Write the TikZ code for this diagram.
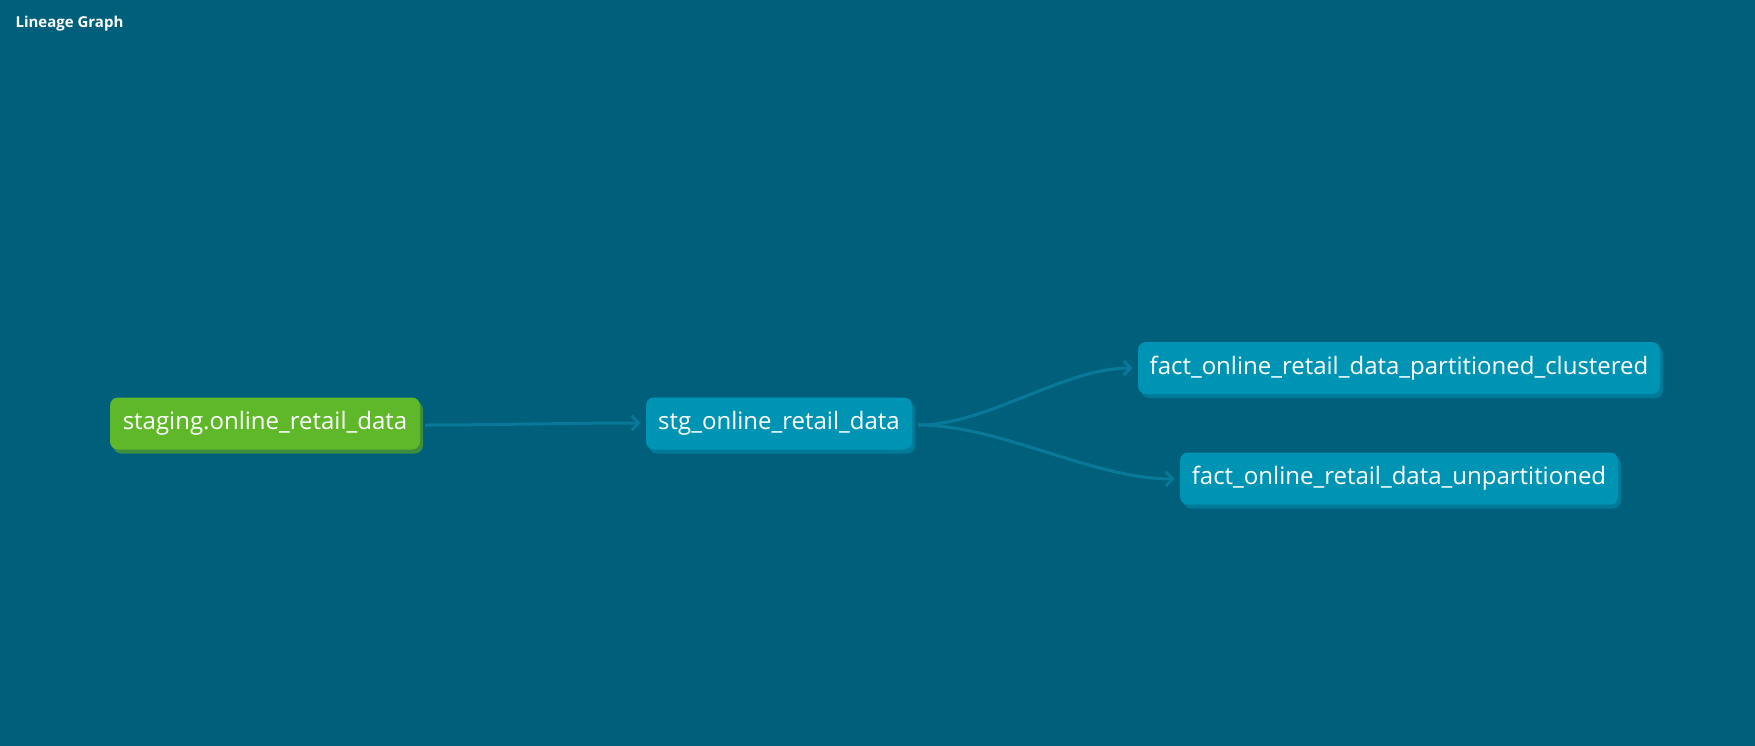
\documentclass[tikz,border=0pt]{standalone}
\usepackage{fontspec}
\setmainfont{Open Sans}
\usetikzlibrary{arrows.meta}
\definecolor{bg}{RGB}{0,95,123}
\definecolor{edgec}{RGB}{8,121,153}
\definecolor{tealnode}{RGB}{0,148,180}
\definecolor{tealshadow}{RGB}{0,122,153}
\definecolor{greennode}{RGB}{95,184,41}
\definecolor{greenshadow}{RGB}{61,140,63}
\tikzset{
  basenode/.style={rounded corners=8pt, minimum height=52pt, inner sep=0pt,
    text=white, font=\fontsize{24}{28}\selectfont, anchor=center},
  greenbox/.style={basenode, fill=greennode,
    preaction={fill=greenshadow, transform canvas={xshift=3pt,yshift=-4pt}}},
  tealbox/.style={basenode, fill=tealnode,
    preaction={fill=tealshadow, transform canvas={xshift=3pt,yshift=-4pt}}},
  edge/.style={draw=edgec, line width=3pt,
    -{Straight Barb[length=7pt,width=14pt,line width=3pt]}},
}
\begin{document}
\begin{tikzpicture}[x=1pt,y=-1pt]
\fill[bg] (0,0) rectangle (1755,746);
\useasboundingbox (0,0) rectangle (1755,746);
\node[anchor=base west, text=white, font=\fontsize{15}{18}\selectfont\bfseries] (title) at (12,28) {Lineage Graph};
\node[greenbox, minimum width=310pt] (g) at (265,423.5) {staging.online\_retail\_data};
\node[tealbox, minimum width=266pt] (s) at (779,423.5) {stg\_online\_retail\_data};
\node[tealbox, minimum width=522pt] (fp) at (1399,368) {fact\_online\_retail\_data\_partitioned\_clustered};
\node[tealbox, minimum width=438pt] (fu) at (1399,478.5) {fact\_online\_retail\_data\_unpartitioned};
\draw[edge] ([xshift=5pt,yshift=-1.5pt]g.east) to[out=0,in=180,looseness=0.8] ([xshift=-5pt,yshift=0.5pt]s.west);
\draw[edge] ([xshift=6pt,yshift=-1.5pt]s.east) to[out=0,in=180,looseness=0.8] ([xshift=-5pt]fp.west);
\draw[edge] ([xshift=6pt,yshift=-1.5pt]s.east) to[out=0,in=180,looseness=0.8] ([xshift=-5pt,yshift=-0.5pt]fu.west);
\end{tikzpicture}
\end{document}
